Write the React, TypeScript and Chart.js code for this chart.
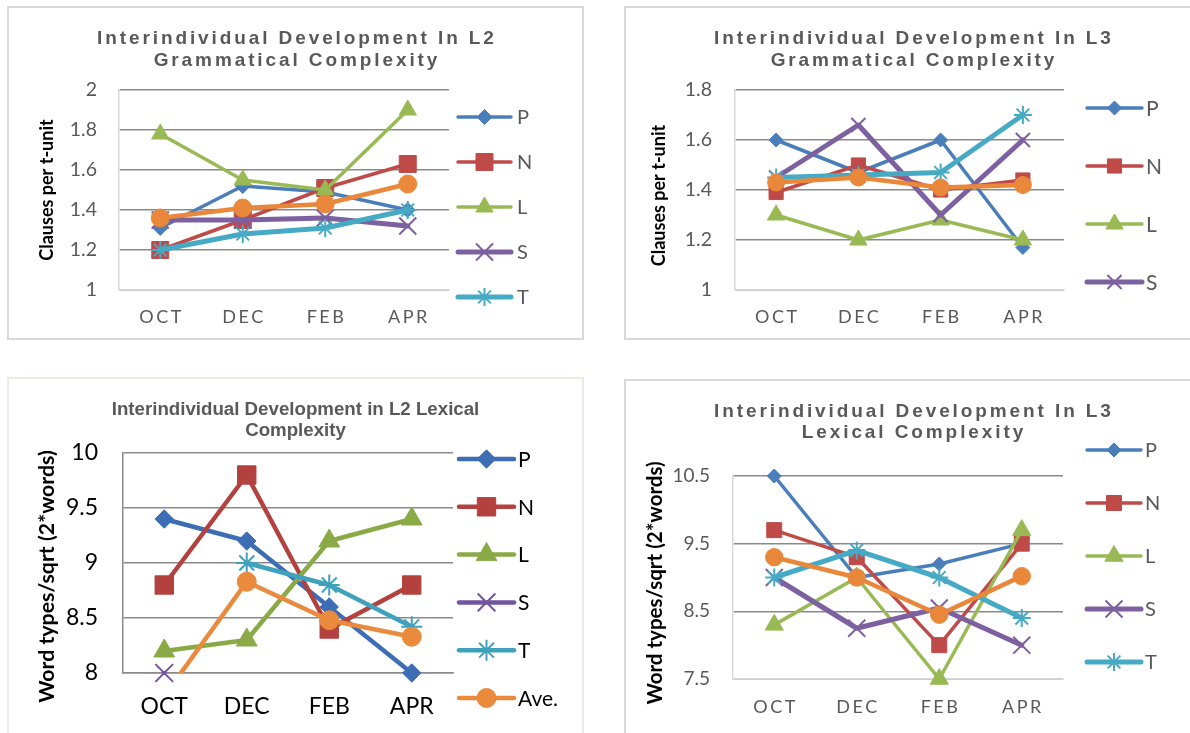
import React, { useEffect, useRef } from 'react';
import { Chart, registerables } from 'chart.js';
import { drawPoint } from 'chart.js/helpers';

Chart.register(...registerables);

// ---------- data ----------
const months = ['OCT', 'DEC', 'FEB', 'APR'];
const seriesNames = ['P', 'N', 'L', 'S', 'T', 'Ave.'];

// L2 grammatical complexity (clauses per t-unit)
const l2GramP = [1.31, 1.52, 1.49, 1.4];
const l2GramN = [1.2, 1.35, 1.51, 1.63];
const l2GramL = [1.78, 1.55, 1.5, 1.9];
const l2GramS = [1.35, 1.35, 1.36, 1.32];
const l2GramT = [1.2, 1.28, 1.31, 1.4];
const l2GramAve = [1.36, 1.41, 1.43, 1.53];

// L3 grammatical complexity (clauses per t-unit)
const l3GramP = [1.6, 1.47, 1.6, 1.17];
const l3GramN = [1.39, 1.5, 1.4, 1.44];
const l3GramL = [1.3, 1.2, 1.28, 1.2];
const l3GramS = [1.45, 1.66, 1.3, 1.6];
const l3GramT = [1.45, 1.46, 1.47, 1.7];
const l3GramAve = [1.43, 1.45, 1.41, 1.42];

// L2 lexical complexity (word types / sqrt(2*words))
const l2LexP = [9.4, 9.2, 8.6, 8.0];
const l2LexN = [8.8, 9.8, 8.4, 8.8];
const l2LexL = [8.2, 8.3, 9.2, 9.4];
const l2LexS = [8.0, null, null, null];
const l2LexT = [null, 9.0, 8.8, 8.42];
const l2LexAve = [7.79, 8.83, 8.48, 8.33];

// L3 lexical complexity (word types / sqrt(2*words))
const l3LexP = [10.5, 9.0, 9.2, 9.5];
const l3LexN = [9.7, 9.3, 8.0, 9.5];
const l3LexL = [8.3, 9.0, 7.5, 9.7];
const l3LexS = [9.0, 8.25, 8.55, 8.0];
const l3LexT = [9.0, 9.4, 9.0, 8.4];
const l3LexAve = [9.3, 9.0, 8.45, 9.02];

// y-axis ranges (tick labels follow from these)
const l2GramAxis = { min: 1, max: 2, step: 0.2 };
const l3GramAxis = { min: 1, max: 1.8, step: 0.2 };
const l2LexAxis = { min: 8, max: 10, step: 0.5 };
const l3LexAxis = { min: 7.5, max: 10.5, step: 1 };

const gramTitleL2 = ['Interindividual Development In L2', 'Grammatical Complexity'];
const gramTitleL3 = ['Interindividual Development In L3', 'Grammatical Complexity'];
const lexTitleL2 = ['Interindividual Development in L2 Lexical', 'Complexity'];
const lexTitleL3 = ['Interindividual Development In L3', 'Lexical Complexity'];
const gramYTitle = 'Clauses per t-unit';
const lexYTitle = 'Word types/sqrt (2*words)';

// ---------- styles ----------
const pointStyles = ['rectRot', 'rect', 'triangle', 'crossRot', 'star', 'circle'];
const lightColors = ['#4A7EBB', '#BE4B48', '#98B954', '#7D60A0', '#46AAC5', '#E9883A'];
const darkColors = ['#3D6DB5', '#B3413E', '#8AAA47', '#7254A0', '#3FA1BC', '#E98A3C'];
const CAL = 'Lato, "Noto Sans", sans-serif';
const ARIAL = '"Liberation Sans", Arial, sans-serif';

const fmt = (v: any) => String(Number(Number(v).toFixed(2)));

const excelLegend = {
  id: 'excelLegend',
  afterDraw(chart: any, _args: any, opts: any) {
    const { ctx, chartArea } = chart;
    const n = opts.count;
    ctx.save();
    for (let i = 0; i < n; i++) {
      const ds = chart.data.datasets[i];
      const y = chartArea.top + opts.firstY + i * opts.spacing;
      const x0 = chartArea.right + opts.lineStart;
      const x1 = chartArea.right + opts.lineEnd;
      ctx.strokeStyle = ds.borderColor;
      ctx.lineWidth = ds.borderWidth;
      ctx.lineCap = 'round';
      ctx.beginPath();
      ctx.moveTo(x0, y);
      ctx.lineTo(x1, y);
      ctx.stroke();
      ctx.fillStyle = ds.pointBackgroundColor;
      ctx.strokeStyle = ds.pointBorderColor;
      ctx.lineWidth = ds.pointBorderWidth;
      ctx.lineCap = 'butt';
      drawPoint(ctx, { pointStyle: ds.pointStyle, radius: ds.pointRadius, rotation: 0, borderWidth: ds.pointBorderWidth }, (x0 + x1) / 2, y);
      ctx.fillStyle = opts.color;
      ctx.font = `${opts.size}px ${CAL}`;
      ctx.textAlign = 'left';
      ctx.textBaseline = 'middle';
      ctx.fillText(ds.label, chartArea.right + opts.textX, y + 1);
    }
    ctx.restore();
  },
};

// shifts text blocks (chart title, y-axis title) and adds Excel-like letter spacing
const textTweaks = {
  id: 'textTweaks',
  beforeDraw(chart: any, _args: any, opts: any) {
    const wrap = (obj: any, name: string, dx: number, dy: number, ls: number) => {
      if (!obj || obj['__w_' + name]) return;
      const orig = obj[name];
      obj[name] = function (...a: any[]) {
        const c: any = chart.ctx;
        c.save();
        c.translate(dx, dy);
        if (ls) {
          const baseFill = CanvasRenderingContext2D.prototype.fillText;
          c.fillText = function (text: any, x: number, y: number) {
            const align = c.textAlign;
            const s = String(text);
            c.letterSpacing = '0px';
            const w = c.measureText(s).width + ls * (s.length - 1);
            c.letterSpacing = ls + 'px';
            let x0 = x;
            if (align === 'center') x0 = x - w / 2;
            else if (align === 'right' || align === 'end') x0 = x - w;
            c.textAlign = 'left';
            baseFill.call(c, s, x0, y);
            c.textAlign = align;
          };
        }
        const r = orig.apply(this, a);
        if (ls) delete c.fillText;
        c.restore();
        return r;
      };
      obj['__w_' + name] = true;
    };
    wrap(chart.titleBlock, 'draw', opts.titleDx, 0, opts.title);
    if (opts.x) wrap(chart.scales.x, 'drawLabels', 0, 0, opts.x);
    wrap(chart.scales.y, 'drawTitle', 0, opts.yTitleDy, 0);
  },
};

function buildChart(canvas: HTMLCanvasElement, p: any) {
  const datasets = p.series.map((values: any[], i: number) => ({
    label: seriesNames[i],
    data: values,
    borderColor: p.colors[i],
    backgroundColor: p.colors[i],
    pointBackgroundColor: p.colors[i],
    pointBorderColor: p.colors[i],
    borderWidth: p.lineWidths[i],
    pointStyle: pointStyles[i],
    pointRadius: p.radii[i],
    pointHoverRadius: p.radii[i],
    pointBorderWidth: i === 3 || i === 4 ? 2 : 1,
    borderCapStyle: 'round',
    borderJoinStyle: 'round',
    tension: 0,
    spanGaps: false,
    order: 6 - i,
    clip: p.tightClip && p.tightClip[i] ? 0 : false,
  }));
  return new Chart(canvas, {
    type: 'line',
    data: { labels: months, datasets },
    options: {
      animation: false,
      responsive: false,
      maintainAspectRatio: false,
      events: [],
      layout: { padding: { left: 0, top: 0, right: p.padRight, bottom: 0 } },
      plugins: {
        legend: { display: false },
        tooltip: { enabled: false },
        title: {
          display: true,
          text: p.title,
          color: '#595959',
          font: { family: ARIAL, size: p.titleSize, weight: 'bold', lineHeight: p.titleLine / p.titleSize },
          padding: { top: p.titlePadTop, bottom: p.titlePadBottom },
        },
        excelLegend: p.legend,
        textTweaks: { title: p.titleSpacing, x: p.xSpacing, titleDx: p.padRight / 2, yTitleDy: p.yTitleDy },
      },
      scales: {
        x: {
          type: 'category',
          offset: true,
          grid: { display: false, drawTicks: false },
          border: { display: true, color: p.axisColor, width: 1.5 },
          ticks: {
            color: p.tickColor,
            font: { family: CAL, size: p.xTickSize },
            padding: p.xTickPad,
            maxRotation: 0,
            autoSkip: false,
          },
          afterFit: (s: any) => {
            s.height = p.xHeight;
          },
        },
        y: {
          min: p.axis.min,
          max: p.axis.max,
          ticks: {
            stepSize: p.axis.step,
            color: p.tickColor,
            font: { family: CAL, size: p.yTickSize },
            padding: p.yTickPad,
            callback: fmt,
          },
          grid: { color: p.gridColor, lineWidth: 1.5, drawTicks: false },
          border: { color: p.axisColor, width: 1.5 },
          title: {
            display: true,
            text: p.yTitle,
            color: '#000000',
            font: { family: CAL, size: p.yTitleSize, weight: 'bold', lineHeight: 1.2 },
            padding: { top: p.yTitlePad, bottom: 0 },
          },
          afterFit: (s: any) => {
            s.width = p.yWidth;
          },
        },
      },
    },
    plugins: [excelLegend, textTweaks],
  } as any);
}

const panels: any[] = [
  {
    box: [7, 6, 577, 334],
    borderColor: '#D9D9D9',
    series: [l2GramP, l2GramN, l2GramL, l2GramS, l2GramT, l2GramAve],
    colors: lightColors,
    lineWidths: [3.5, 3.5, 3.5, 5, 5, 4.5],
    radii: [7.5, 12, 10, 12, 9, 9],
    axis: l2GramAxis,
    title: gramTitleL2,
    titleSize: 19,
    titleLine: 22,
    titlePadTop: 20,
    titlePadBottom: 18,
    titleSpacing: 2.9,
    xSpacing: 2.5,
    padRight: 133,
    yWidth: 110,
    xHeight: 48,
    tickColor: '#595959',
    xTickSize: 18,
    xTickPad: 16,
    yTickSize: 19.5,
    yTickPad: 22,
    yTitle: gramYTitle,
    yTitleSize: 18,
    yTitlePad: 27,
    yTitleDy: 0,
    gridColor: '#898989',
    axisColor: '#D9D9D9',
    legend: { count: 5, firstY: 27, spacing: 45, lineStart: 9, lineEnd: 62, textX: 68, color: '#595959', size: 20 },
  },
  {
    box: [624, 6, 577, 334],
    borderColor: '#D9D9D9',
    series: [l3GramP, l3GramN, l3GramL, l3GramS, l3GramT, l3GramAve],
    colors: lightColors,
    lineWidths: [3.5, 3.5, 3.5, 5, 5, 4.5],
    radii: [7, 10, 10, 10, 9, 8.5],
    axis: l3GramAxis,
    title: gramTitleL3,
    titleSize: 19,
    titleLine: 22,
    titlePadTop: 20,
    titlePadBottom: 18,
    titleSpacing: 2.9,
    xSpacing: 2.5,
    padRight: 135,
    yWidth: 109,
    xHeight: 48,
    tickColor: '#595959',
    xTickSize: 18,
    xTickPad: 16,
    yTickSize: 19.5,
    yTickPad: 23,
    yTitle: gramYTitle,
    yTitleSize: 18,
    yTitlePad: 22.7,
    yTitleDy: 5.5,
    gridColor: '#898989',
    axisColor: '#D9D9D9',
    legend: { count: 4, firstY: 18, spacing: 58, lineStart: 23, lineEnd: 78, textX: 82, color: '#595959', size: 21 },
  },
  {
    box: [7, 377, 577, 360],
    borderColor: '#EEECE1',
    series: [l2LexP, l2LexN, l2LexL, l2LexS, l2LexT, l2LexAve],
    colors: darkColors,
    lineWidths: [4.5, 4.5, 4.5, 4.5, 4.5, 4.5],
    radii: [9.2, 13, 12, 12.5, 10.5, 9.5],
    tightClip: [false, false, false, false, false, true],
    axis: l2LexAxis,
    title: lexTitleL2,
    titleSize: 18.7,
    titleLine: 21,
    titlePadTop: 20.5,
    titlePadBottom: 11.5,
    titleSpacing: 0,
    xSpacing: 0,
    padRight: 129,
    yWidth: 114,
    xHeight: 62,
    tickColor: '#000000',
    xTickSize: 23,
    xTickPad: 20,
    yTickSize: 23,
    yTickPad: 25,
    yTitle: lexYTitle,
    yTitleSize: 21.3,
    yTitlePad: 25.2,
    yTitleDy: 13.5,
    gridColor: '#8A8A8A',
    axisColor: '#8A8A8A',
    legend: { count: 6, firstY: 6, spacing: 47.8, lineStart: 6, lineEnd: 61, textX: 65, color: '#000000', size: 21 },
  },
  {
    box: [624, 379, 577, 360],
    borderColor: '#D9D9D9',
    series: [l3LexP, l3LexN, l3LexL, l3LexS, l3LexT, l3LexAve],
    colors: lightColors,
    lineWidths: [3.5, 3.5, 3.5, 5, 5, 4.5],
    radii: [7, 10.6, 10.5, 12, 9, 8.7],
    axis: l3LexAxis,
    title: lexTitleL3,
    titleSize: 19,
    titleLine: 21,
    titlePadTop: 20.5,
    titlePadBottom: 32.5,
    titleSpacing: 2.9,
    xSpacing: 2.5,
    padRight: 136,
    yWidth: 107,
    xHeight: 58,
    tickColor: '#595959',
    xTickSize: 18,
    xTickPad: 17,
    yTickSize: 19,
    yTickPad: 23,
    yTitle: lexYTitle,
    yTitleSize: 20.5,
    yTitlePad: 16.7,
    yTitleDy: 5.5,
    gridColor: '#898989',
    axisColor: '#D9D9D9',
    legend: { count: 5, firstY: -26, spacing: 53, lineStart: 24, lineEnd: 78, textX: 82, color: '#595959', size: 20 },
  },
];

function Panel({ cfg }: { cfg: any }) {
  const ref = useRef<HTMLCanvasElement | null>(null);
  const [x, y, w, h] = cfg.box;
  useEffect(() => {
    if (!ref.current) return;
    const chart = buildChart(ref.current, cfg);
    let alive = true;
    if ((document as any).fonts && (document as any).fonts.ready) {
      (document as any).fonts.ready.then(() => {
        if (alive) chart.update();
      });
    }
    return () => {
      alive = false;
      chart.destroy();
    };
  }, []);
  return (
    <div
      style={{
        position: 'absolute',
        left: x,
        top: y,
        width: w,
        height: h,
        border: `2px solid ${cfg.borderColor}`,
        boxSizing: 'border-box',
        background: '#ffffff',
      }}
    >
      <canvas ref={ref} width={w - 4} height={h - 4} style={{ display: 'block', width: w - 4, height: h - 4 }} />
    </div>
  );
}

export default function App() {
  return (
    <div
      style={{
        position: 'fixed',
        left: 0,
        top: 0,
        width: 1190,
        height: 733,
        overflow: 'hidden',
        background: '#ffffff',
      }}
    >
      {panels.map((p, i) => (
        <Panel key={i} cfg={p} />
      ))}
    </div>
  );
}
